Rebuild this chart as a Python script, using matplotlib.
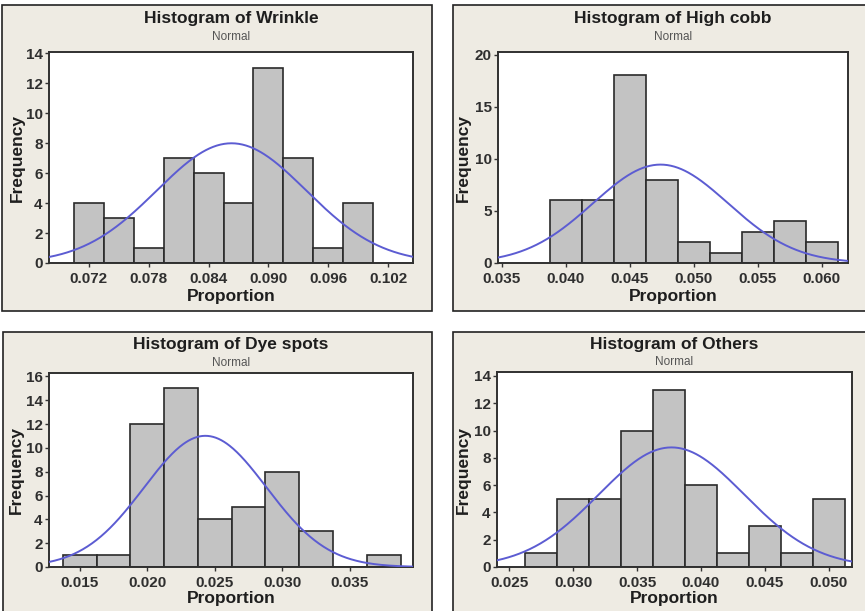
import numpy as np
import matplotlib
matplotlib.use("Agg")
import matplotlib.pyplot as plt
from matplotlib.patches import Rectangle

plt.rcParams["font.family"] = ["Liberation Sans", "DejaVu Sans"]

W, H = 865, 611

# ---- data: bin centres, counts, fitted normal parameters ----
wrinkle_centers = [0.072, 0.075, 0.078, 0.081, 0.084, 0.087, 0.090, 0.093, 0.096, 0.099]
wrinkle_counts = [4, 3, 1, 7, 6, 4, 13, 7, 1, 4]
wrinkle_width = 0.003
wrinkle_mean, wrinkle_sd = 0.0863, 0.00748
wrinkle_xticks = [0.072, 0.078, 0.084, 0.090, 0.096, 0.102]
wrinkle_xticklabels = ["0.072", "0.078", "0.084", "0.090", "0.096", "0.102"]
wrinkle_yticks = [0, 2, 4, 6, 8, 10, 12, 14]

cobb_centers = [0.040, 0.0425, 0.045, 0.0475, 0.050, 0.0525, 0.055, 0.0575, 0.060]
cobb_counts = [6, 6, 18, 8, 2, 1, 3, 4, 2]
cobb_width = 0.0025
cobb_mean, cobb_sd = 0.0474, 0.00528
cobb_xticks = [0.035, 0.040, 0.045, 0.050, 0.055, 0.060]
cobb_xticklabels = ["0.035", "0.040", "0.045", "0.050", "0.055", "0.060"]
cobb_yticks = [0, 5, 10, 15, 20]

dye_centers = [0.015, 0.0175, 0.020, 0.0225, 0.025, 0.0275, 0.030, 0.0325, 0.035, 0.0375]
dye_counts = [1, 1, 12, 15, 4, 5, 8, 3, 0, 1]
dye_width = 0.0025
dye_mean, dye_sd = 0.0243, 0.00453
dye_xticks = [0.015, 0.020, 0.025, 0.030, 0.035]
dye_xticklabels = ["0.015", "0.020", "0.025", "0.030", "0.035"]
dye_yticks = [0, 2, 4, 6, 8, 10, 12, 14, 16]

others_centers = [0.0275, 0.030, 0.0325, 0.035, 0.0375, 0.040, 0.0425, 0.045, 0.0475, 0.050]
others_counts = [1, 5, 5, 10, 13, 6, 1, 3, 1, 5]
others_width = 0.0025
others_mean, others_sd = 0.0377, 0.00569
others_xticks = [0.025, 0.030, 0.035, 0.040, 0.045, 0.050]
others_xticklabels = ["0.025", "0.030", "0.035", "0.040", "0.045", "0.050"]
others_yticks = [0, 2, 4, 6, 8, 10, 12, 14]

titles = ["Histogram of Wrinkle", "Histogram of High cobb",
          "Histogram of Dye spots", "Histogram of Others"]

BG = "#eeebe3"
BAR = "#c3c3c3"
EDGE = "#2a2a2a"
CURVE = "#5c5cd2"
TXT = "#2f2f2f"

fig = plt.figure(figsize=(W / 100, H / 100), dpi=100)
fig.patch.set_facecolor("white")


def fx(x):
    return x / W


def fy(y):
    return 1 - y / H


def frame(x0, y0, x1, y1):
    fig.patches.append(Rectangle((fx(x0), fy(y1)), fx(x1) - fx(x0), fy(y0) - fy(y1),
                                 transform=fig.transFigure, facecolor=BG,
                                 edgecolor="#222222", linewidth=1.2, zorder=-10))


frame(2, 5, 432, 311)
frame(453, 5, 870, 311)
frame(3, 332, 432, 620)
frame(453, 332, 870, 620)

panels = [
    dict(box=(49, 52, 413, 263), xlim=(0.0680, 0.1045), ylim=(0, 14.1),
         centers=wrinkle_centers, counts=wrinkle_counts, width=wrinkle_width,
         mean=wrinkle_mean, sd=wrinkle_sd, xticks=wrinkle_xticks,
         xticklabels=wrinkle_xticklabels, yticks=wrinkle_yticks,
         title_y=18, sub_y=37, ylab_x=17, xlab_y=296),
    dict(box=(498, 52, 848, 263), xlim=(0.0347, 0.06205), ylim=(0, 20.25),
         centers=cobb_centers, counts=cobb_counts, width=cobb_width,
         mean=cobb_mean, sd=cobb_sd, xticks=cobb_xticks,
         xticklabels=cobb_xticklabels, yticks=cobb_yticks,
         title_y=18, sub_y=37, ylab_x=463, xlab_y=296),
    dict(box=(49, 373, 413, 567), xlim=(0.01273, 0.03967), ylim=(0, 16.28),
         centers=dye_centers, counts=dye_counts, width=dye_width,
         mean=dye_mean, sd=dye_sd, xticks=dye_xticks,
         xticklabels=dye_xticklabels, yticks=dye_yticks,
         title_y=345, sub_y=363, ylab_x=16, xlab_y=599),
    dict(box=(497, 372, 852, 567), xlim=(0.02404, 0.05183), ylim=(0, 14.29),
         centers=others_centers, counts=others_counts, width=others_width,
         mean=others_mean, sd=others_sd, xticks=others_xticks,
         xticklabels=others_xticklabels, yticks=others_yticks,
         title_y=344, sub_y=362, ylab_x=463, xlab_y=599),
]

for title, p in zip(titles, panels):
    l, t, r, b = p["box"]
    ax = fig.add_axes([fx(l), fy(b), fx(r) - fx(l), fy(t) - fy(b)], zorder=1)
    ax.set_facecolor("white")
    ax.bar(p["centers"], p["counts"], width=p["width"], color=BAR,
           edgecolor=EDGE, linewidth=1.2, zorder=2)
    xs = np.linspace(p["xlim"][0], p["xlim"][1], 400)
    n = sum(p["counts"])
    ys = n * p["width"] / (p["sd"] * np.sqrt(2 * np.pi)) * \
        np.exp(-0.5 * ((xs - p["mean"]) / p["sd"]) ** 2)
    ax.plot(xs, ys, color=CURVE, linewidth=1.4, zorder=3, clip_on=True)
    ax.set_xlim(*p["xlim"])
    ax.set_ylim(*p["ylim"])
    ax.set_xticks(p["xticks"])
    ax.set_xticklabels(p["xticklabels"])
    ax.set_yticks(p["yticks"])
    ax.tick_params(axis="both", direction="out", length=3, width=1,
                   color="#333333", labelsize=11, labelcolor=TXT)
    ax.tick_params(axis="x", pad=3.5)
    ax.tick_params(axis="y", pad=1.5)
    for lab in ax.get_xticklabels() + ax.get_yticklabels():
        lab.set_fontweight("bold")
    for s in ax.spines.values():
        s.set_color("#303030")
        s.set_linewidth(1.4)
    ax.set_xlabel("Proportion", fontsize=12.5, fontweight="bold", color="#1e1e1e")
    ax.set_ylabel("Frequency", fontsize=12.5, fontweight="bold", color="#1e1e1e")
    ax.xaxis.set_label_coords(0.5, (b - p["xlab_y"]) / (b - t))
    ax.yaxis.set_label_coords((p["ylab_x"] - l) / (r - l), 0.5)
    ax.xaxis.label.set_va("center")
    ax.yaxis.label.set_va("center")
    cx = (l + r) / 2
    fig.text(fx(cx), fy(p["title_y"]), title, ha="center", va="center",
             fontsize=12.5, fontweight="bold", color="#1e1e1e")
    fig.text(fx(cx), fy(p["sub_y"]), "Normal", ha="center", va="center",
             fontsize=8.5, color="#555555")

fig.savefig("out.png", dpi=100, facecolor=fig.get_facecolor())
